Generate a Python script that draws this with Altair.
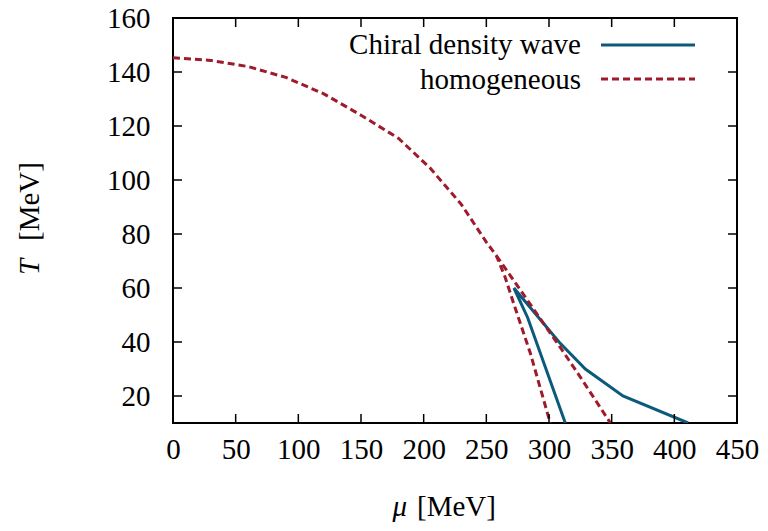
import altair as alt
import pandas as pd

# ---- data ----
hom_main_mu = [0, 30, 60, 90, 120, 150, 180, 205, 230, 250, 258, 265, 272, 285, 301]
hom_main_T = [145.3, 144.3, 142, 138, 132, 124, 115.4, 104.5, 91, 77, 72, 64, 54, 36, 10]
hom_right_mu = [258, 309, 325, 349]
hom_right_T = [72, 38, 27, 10]
cdw_mu = [313, 283, 272, 308, 329, 359, 411]
cdw_T = [10, 49, 60, 40, 30, 20, 10]

x_ticks = [0, 50, 100, 150, 200, 250, 300, 350, 400, 450]
y_ticks = [20, 40, 60, 80, 100, 120, 140, 160]
x_inner_ticks = [50, 100, 150, 200, 250, 300, 350, 400]
y_inner_ticks = [20, 40, 60, 80, 100, 120, 140]

series_names = ["Chiral density wave", "homogeneous"]
blue = "#0b5a7c"
red = "#9e1b2c"
FONT = "Liberation Serif"
FS = 29

W, H = 564, 405

hom_df = pd.DataFrame({
    "mu": hom_main_mu + hom_right_mu,
    "T": hom_main_T + hom_right_T,
    "branch": ["a"] * len(hom_main_mu) + ["b"] * len(hom_right_mu),
    "idx": list(range(len(hom_main_mu))) + list(range(len(hom_right_mu))),
})
cdw_df = pd.DataFrame({"mu": cdw_mu, "T": cdw_T, "idx": list(range(len(cdw_mu)))})

xs = alt.Scale(domain=[0, 450], nice=False, zero=False)
ys = alt.Scale(domain=[10, 160], nice=False, zero=False)

x_axis = alt.Axis(values=x_ticks, title=None, grid=False, domain=False, ticks=False,
                  labelFont=FONT, labelFontSize=FS, labelColor="black", labelPadding=12,
                  labelFlush=False, labelOverlap=False, format="d")
y_axis = alt.Axis(values=y_ticks, title=None, grid=False, domain=False, ticks=False,
                  labelFont=FONT, labelFontSize=FS, labelColor="black", labelPadding=23,
                  labelFlush=False, labelOverlap=False, format="d")

cdw = alt.Chart(cdw_df).mark_line(color=blue, strokeWidth=3, clip=True).encode(
    x=alt.X("mu:Q", scale=xs, axis=x_axis),
    y=alt.Y("T:Q", scale=ys, axis=y_axis),
    order="idx:Q",
)
hom = alt.Chart(hom_df).mark_line(color=red, strokeWidth=3, strokeDash=[7, 4], clip=True).encode(
    x=alt.X("mu:Q", scale=xs),
    y=alt.Y("T:Q", scale=ys),
    detail="branch:N",
    order="idx:Q",
)

# inward ticks on all four sides
yt = pd.DataFrame({"T": y_inner_ticks})
xt = pd.DataFrame({"mu": x_inner_ticks})
tick_style = dict(color="black", strokeWidth=1.5)
ytl = alt.Chart(yt).mark_rule(**tick_style).encode(
    y=alt.Y("T:Q", scale=ys), x=alt.value(0), x2=alt.value(9))
ytr = alt.Chart(yt).mark_rule(**tick_style).encode(
    y=alt.Y("T:Q", scale=ys), x=alt.value(W - 9), x2=alt.value(W))
xtb = alt.Chart(xt).mark_rule(**tick_style).encode(
    x=alt.X("mu:Q", scale=xs), y=alt.value(H - 9), y2=alt.value(H))
xtt = alt.Chart(xt).mark_rule(**tick_style).encode(
    x=alt.X("mu:Q", scale=xs), y=alt.value(0), y2=alt.value(9))

# axis titles (italic symbol + upright unit)
def txt(s, x, y, align="left", style="normal", angle=0, baseline="middle"):
    return alt.Chart(pd.DataFrame({"t": [s]})).mark_text(
        font=FONT, fontSize=FS, fontStyle=style, align=align, baseline=baseline,
        angle=angle, color="black").encode(text="t:N", x=alt.value(x), y=alt.value(y))

xtitle_mu = txt("μ", 234, 489, align="right", style="italic")
xtitle_unit = txt("[MeV]", 244, 489, align="left")
ytitle_T = txt("T", -143, 257, align="left", style="italic", angle=270)
ytitle_unit = txt("[MeV]", -143, 223, align="left", angle=270)

# legend (gnuplot style: text right-aligned, sample on the right)
leg_t1 = txt(series_names[0], 408, 27, align="right")
leg_t2 = txt(series_names[1], 408, 62, align="right")
leg_l1 = alt.Chart(pd.DataFrame({"s": [series_names[0]]})).mark_rule(color=blue, strokeWidth=3).encode(
    x=alt.value(428), x2=alt.value(522), y=alt.value(27))
leg_l2 = alt.Chart(pd.DataFrame({"s": [series_names[1]]})).mark_rule(color=red, strokeWidth=3, strokeDash=[7, 4]).encode(
    x=alt.value(428), x2=alt.value(522), y=alt.value(61))

chart = alt.layer(
    cdw, hom, ytl, ytr, xtb, xtt,
    xtitle_mu, xtitle_unit, ytitle_T, ytitle_unit,
    leg_t1, leg_t2, leg_l1, leg_l2,
).properties(
    width=W, height=H,
    padding={"left": 165, "top": 10, "right": 23, "bottom": 100},
    autosize=alt.AutoSizeParams(type="none"),
).configure_view(stroke="black", strokeWidth=2)

chart.save("out.html", embed_options={"renderer": "svg", "actions": False})
